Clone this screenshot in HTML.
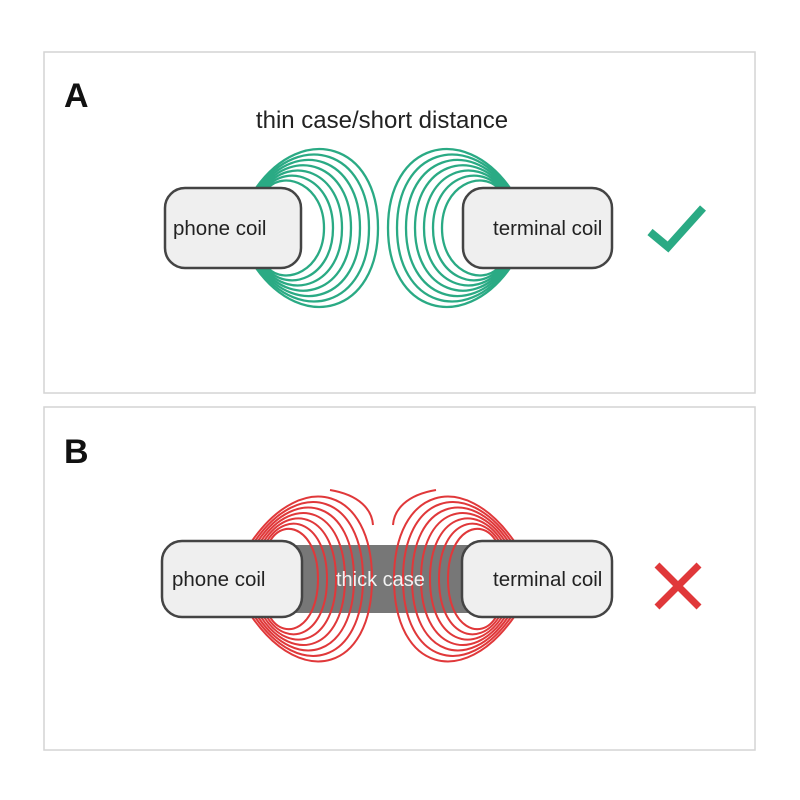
<!DOCTYPE html>
<html><head><style>body{margin:0;background:#fff}svg{display:block}</style></head><body>
<svg width="800" height="800" viewBox="0 0 800 800" xmlns="http://www.w3.org/2000/svg" font-family="Liberation Sans, sans-serif">
<rect x="44" y="52" width="711" height="341" fill="#fff" stroke="#d4d4d4" stroke-width="1.5"/>
<rect x="44" y="407" width="711" height="343" fill="#fff" stroke="#d4d4d4" stroke-width="1.5"/>
<text x="64" y="107" font-size="34" font-weight="bold" fill="#111">A</text>
<text x="64" y="463" font-size="34" font-weight="bold" fill="#111">B</text>
<text x="382" y="128" font-size="24" fill="#222" text-anchor="middle">thin case/short distance</text>
<g fill="none" stroke="#2aaa84" stroke-width="2.3">
<g id="gl">
<path d="M256 188 C303 122,378 143,378 228 C378 313,303 334,256 268"/>
<path d="M258 188 C300 130,369 150,369 228 C369 306,300 326,258 268"/>
<path d="M260 188 C297 138,360 157,360 228 C360 299,297 318,260 268"/>
<path d="M262 188 C294 146,351 164,351 228 C351 292,294 310,262 268"/>
<path d="M264 188 C291 154,342 171,342 228 C342 285,291 302,264 268"/>
<path d="M266 188 C288 162,333 178,333 228 C333 278,288 294,266 268"/>
<path d="M268 188 C285 170,324 185,324 228 C324 271,285 286,268 268"/>
</g>
<use href="#gl" transform="translate(766,0) scale(-1,1)"/>
</g>
<rect x="165" y="188" width="136" height="80" rx="20" fill="#efefef" stroke="#444" stroke-width="2.5"/>
<rect x="463" y="188" width="149" height="80" rx="20" fill="#efefef" stroke="#444" stroke-width="2.5"/>
<text x="173" y="235" font-size="20.5" fill="#222">phone coil</text>
<text x="493" y="235" font-size="20.5" fill="#222">terminal coil</text>
<path d="M650 232 L668 247 L703 208" fill="none" stroke="#2aaa84" stroke-width="8"/>
<rect x="290" y="545" width="180" height="68" fill="#777"/>
<g fill="none" stroke="#e0383a" stroke-width="2">
<g id="rl">
<path d="M252 541 C303 468,372 488,372 579 C372 670,303 690,252 617"/>
<path d="M255 541 C300 476,363 495,363 579 C363 663,300 682,255 617"/>
<path d="M258 541 C297 484,354 502,354 579 C354 656,297 674,258 617"/>
<path d="M261 541 C294 492,345 509,345 579 C345 649,294 666,261 617"/>
<path d="M264 541 C291 500,336 516,336 579 C336 642,291 658,264 617"/>
<path d="M267 541 C288 508,327 523,327 579 C327 635,288 650,267 617"/>
<path d="M270 541 C285 516,318 530,318 579 C318 628,285 642,270 617"/>
<path d="M330 490 C360 495,372 510,373 525"/>
</g>
<use href="#rl" transform="translate(766,0) scale(-1,1)"/>
</g>
<text x="336" y="586" font-size="20" fill="#f2f2f2">thick case</text>
<rect x="162" y="541" width="140" height="76" rx="20" fill="#efefef" stroke="#444" stroke-width="2.5"/>
<rect x="462" y="541" width="150" height="76" rx="20" fill="#efefef" stroke="#444" stroke-width="2.5"/>
<text x="172" y="586" font-size="20.5" fill="#222">phone coil</text>
<text x="493" y="586" font-size="20.5" fill="#222">terminal coil</text>
<path d="M657 565 L699 607 M699 565 L657 607" stroke="#e0383a" stroke-width="7"/>
</svg>
</body></html>
